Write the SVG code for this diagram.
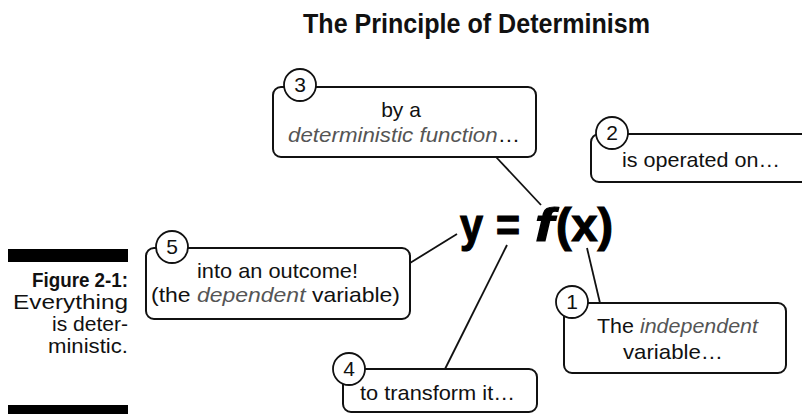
<svg xmlns="http://www.w3.org/2000/svg" width="802" height="414" viewBox="0 0 802 414">
<style>
.box{fill:#fff;stroke:#111;stroke-width:2}
.num{fill:#fff;stroke:#111;stroke-width:1.8}
.numt{font-family:"Liberation Sans",Arial,sans-serif;font-size:21px;fill:#111;text-anchor:middle}
.t{font-family:"Liberation Sans",Arial,sans-serif;font-size:21px;fill:#111}
.it{font-style:italic;fill:#555}
.con{stroke:#111;stroke-width:1.8;fill:none}
.cap{font-family:"Liberation Sans",Arial,sans-serif;font-size:21px;fill:#111;text-anchor:end}
.fx{font-family:"Liberation Sans",Arial,sans-serif;font-weight:bold;font-size:46px;fill:#000;stroke:#000;stroke-width:1.2}
</style>
<rect width="802" height="414" fill="#fff"/>
<text x="303" y="33" font-family="Liberation Sans,Arial,sans-serif" font-weight="bold" font-size="27" fill="#111" textLength="347" lengthAdjust="spacingAndGlyphs">The Principle of Determinism</text>
<g id="caption">
<rect x="8" y="249" width="120" height="13" fill="#000"/>
<rect x="8" y="405" width="120" height="9" fill="#000"/>
<text class="cap" x="128" y="287" font-weight="bold" textLength="96" lengthAdjust="spacingAndGlyphs">Figure 2-1:</text>
<text class="cap" x="128" y="309" textLength="115" lengthAdjust="spacingAndGlyphs">Everything</text>
<text class="cap" x="128" y="331" textLength="76" lengthAdjust="spacingAndGlyphs">is deter-</text>
<text class="cap" x="128" y="353" textLength="80" lengthAdjust="spacingAndGlyphs">ministic.</text>
</g>
<g id="connectors">
<line class="con" x1="496" y1="157" x2="541" y2="205"/>
<line class="con" x1="410" y1="263" x2="457" y2="234"/>
<line class="con" x1="507" y1="245" x2="445" y2="369"/>
<line class="con" x1="587" y1="248" x2="600" y2="303"/>
</g>
<g id="formula">
<text class="fx" x="460" y="241" textLength="23" lengthAdjust="spacingAndGlyphs">y</text>
<text class="fx" x="496" y="241" textLength="24" lengthAdjust="spacingAndGlyphs">=</text>
<text class="fx" x="535" y="241" font-style="italic" textLength="19" lengthAdjust="spacingAndGlyphs">f</text>
<text class="fx" x="556" y="241" textLength="57" lengthAdjust="spacingAndGlyphs">(x)</text>
</g>
<g id="node3">
<rect class="box" x="273" y="87" width="263" height="70" rx="8"/>
<circle class="num" cx="300" cy="85" r="16"/>
<text class="numt" x="300" y="92">3</text>
<text class="t" x="401" y="117" text-anchor="middle">by a</text>
<text class="t" x="288" y="142" textLength="232" lengthAdjust="spacingAndGlyphs"><tspan class="it">deterministic function</tspan>…</text>
</g>
<g id="node2">
<rect class="box" x="591" y="134" width="230" height="48" rx="8"/>
<circle class="num" cx="612" cy="133" r="16"/>
<text class="numt" x="612" y="140">2</text>
<text class="t" x="622" y="167" textLength="158" lengthAdjust="spacingAndGlyphs">is operated on…</text>
</g>
<g id="node5">
<rect class="box" x="146" y="248" width="264" height="71" rx="8"/>
<circle class="num" cx="172" cy="247" r="16"/>
<text class="numt" x="172" y="254">5</text>
<text class="t" x="197" y="278" textLength="161" lengthAdjust="spacingAndGlyphs">into an outcome!</text>
<text class="t" x="151" y="302" textLength="249" lengthAdjust="spacingAndGlyphs">(the <tspan class="it">dependent</tspan> variable)</text>
</g>
<g id="node1">
<rect class="box" x="564" y="303" width="222" height="70" rx="8"/>
<circle class="num" cx="572" cy="302" r="16"/>
<text class="numt" x="572" y="309">1</text>
<text class="t" x="597" y="333" textLength="161" lengthAdjust="spacingAndGlyphs">The <tspan class="it">independent</tspan></text>
<text class="t" x="623" y="359" textLength="100" lengthAdjust="spacingAndGlyphs">variable…</text>
</g>
<g id="node4">
<rect class="box" x="343" y="369" width="194" height="43" rx="8"/>
<circle class="num" cx="349" cy="369" r="16"/>
<text class="numt" x="349" y="376">4</text>
<text class="t" x="360" y="400" textLength="155" lengthAdjust="spacingAndGlyphs">to transform it…</text>
</g>
</svg>
